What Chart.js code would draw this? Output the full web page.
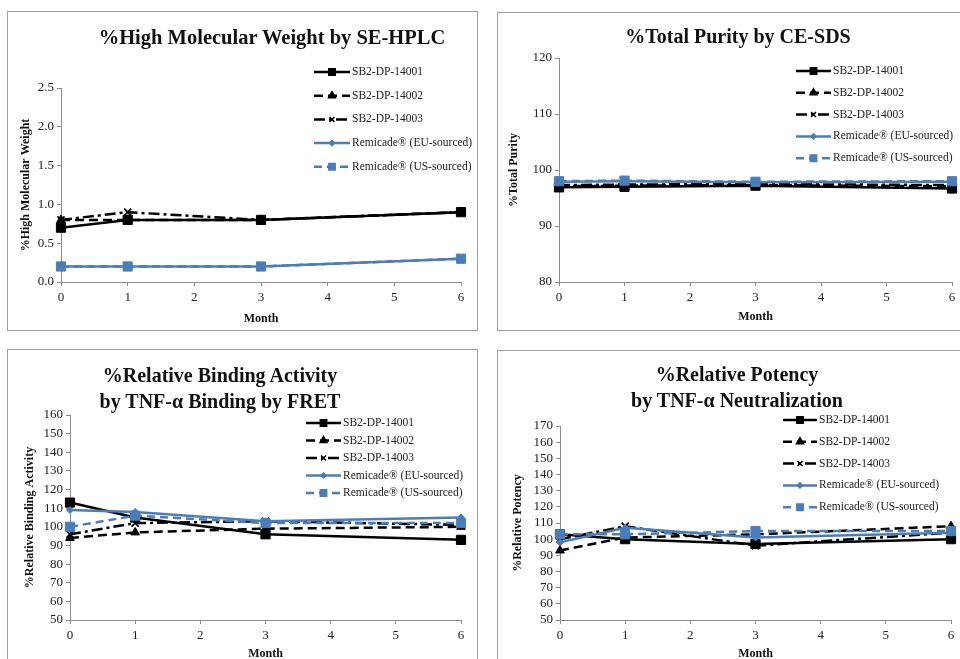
<!DOCTYPE html>
<html>
<head>
<meta charset="utf-8">
<script src="https://cdn.jsdelivr.net/npm/chart.js@4/dist/chart.umd.min.js"></script>
<style>
  body { margin: 0; width: 960px; height: 659px; overflow: hidden; background: #fff; position: relative; }
  .panel { position: absolute; border: 1px solid #a0a0a0; background: #fff; }
  .panel canvas { position: absolute; left: 0; top: 0; }
  .ttl { position: absolute; width: 500px; text-align: center; font: bold 20px "Liberation Serif", serif; line-height: 26px; color: #111; }
</style>
</head>
<body>

<div class="panel" style="left:7px;top:11px;width:469px;height:318px">
  <canvas id="c1" width="469" height="318"></canvas>
  <div class="ttl" style="left:14px;top:12px;font-size:20.5px">%High Molecular Weight by SE-HPLC</div>
</div>
<div class="panel" style="left:497px;top:12px;width:462px;height:317px">
  <canvas id="c2" width="462" height="317"></canvas>
  <div class="ttl" style="left:-10px;top:10px">%Total Purity by CE-SDS</div>
</div>
<div class="panel" style="left:7px;top:349px;width:469px;height:330px">
  <canvas id="c3" width="469" height="330"></canvas>
  <div class="ttl" style="left:-38px;top:12px">%Relative Binding Activity<br>by TNF-α Binding by FRET</div>
</div>
<div class="panel" style="left:497px;top:350px;width:462px;height:330px">
  <canvas id="c4" width="462" height="330"></canvas>
  <div class="ttl" style="left:-11px;top:10px">%Relative Potency<br>by TNF-α Neutralization</div>
</div>

<script>
// time points (months)
const months = [0, 1, 3, 6];
const seriesNames = ["SB2-DP-14001", "SB2-DP-14002", "SB2-DP-14003", "Remicade® (EU-sourced)", "Remicade® (US-sourced)"];

// %HMW by SE-HPLC
const hmw14001 = [0.7, 0.8, 0.8, 0.9];
const hmw14002 = [0.8, 0.8, 0.8, 0.9];
const hmw14003 = [0.8, 0.9, 0.8, 0.9];
const hmwEU = [0.2, 0.2, 0.2, 0.3];
const hmwUS = [0.2, 0.2, 0.2, 0.3];

// %Total purity by CE-SDS
const pur14001 = [96.9, 97.0, 97.2, 96.7];
const pur14002 = [97.1, 97.2, 97.3, 97.1];
const pur14003 = [97.3, 97.4, 97.5, 97.3];
const purEU = [97.9, 98.0, 97.8, 97.9];
const purUS = [98.0, 98.1, 97.9, 98.0];

// %Relative binding activity (FRET)
const bind14001 = [113, 105, 96, 93];
const bind14002 = [94, 97, 99, 100];
const bind14003 = [96, 102, 103, 101];
const bindEU = [109, 108, 103, 105];
const bindUS = [100, 106, 102, 102];

// %Relative potency (TNF-a neutralization)
const pot14001 = [103, 100, 97, 100];
const pot14002 = [93, 101, 103, 108];
const pot14003 = [100, 108, 96, 104];
const potEU = [98, 107, 101, 104];
const potUS = [103, 103, 105, 105];

const blue = "#4a7ebb";
const looks = [
  { color: "#000", dash: [], point: "rect", r: 6.5, lr: 4.5 },
  { color: "#000", dash: [9, 5], point: "triangle", r: 5, lr: 4 },
  { color: "#000", dash: [11, 4, 3, 4], point: "crossRot", r: 5, lr: 3.5 },
  { color: blue, dash: [], point: "rectRot", r: 3.5, lr: 2.5 },
  { color: blue, dash: [8, 5], point: "rect", r: 6.5, lr: 4.5 }
];

function makeSets(lists) {
  return lists.map((vals, i) => ({
    label: seriesNames[i],
    data: months.map((m, j) => ({ x: m, y: vals[j] })),
    borderColor: looks[i].color,
    backgroundColor: looks[i].color,
    borderWidth: 2.5,
    borderDash: looks[i].dash,
    pointStyle: looks[i].point,
    pointRadius: looks[i].r,
    pointBorderWidth: looks[i].point == "crossRot" ? 1.8 : 1,
    order: 4 - i,
    clip: false
  }));
}

// legend drawn as line sample + marker + label, like the Excel one
const legendBox = {
  id: "legendBox",
  afterDraw(chart, args, opts) {
    const ctx = chart.ctx;
    ctx.save();
    ctx.font = '11.5px "Liberation Serif", serif';
    ctx.textBaseline = "middle";
    chart.data.datasets.forEach((ds, i) => {
      const y = opts.y + i * opts.gap;
      ctx.strokeStyle = ds.borderColor;
      ctx.lineWidth = 2.5;
      ctx.setLineDash(ds.borderDash);
      ctx.beginPath();
      ctx.moveTo(opts.x, y);
      ctx.lineTo(opts.x + opts.w, y);
      ctx.stroke();
      ctx.setLineDash([]);
      ctx.fillStyle = ds.borderColor;
      ctx.lineWidth = 1.5;
      Chart.helpers.drawPoint(ctx, { pointStyle: ds.pointStyle, radius: looks[i].lr, rotation: 0, borderWidth: 1.5 }, opts.x + opts.w / 2, y);
      ctx.fillStyle = "#222";
      ctx.fillText(ds.label, opts.x + opts.w + 2, y);
    });
    ctx.restore();
  }
};

const panels = [
  { id: "c1", lists: [hmw14001, hmw14002, hmw14003, hmwEU, hmwUS], min: 0, max: 2.5, step: 0.5, dec: 1,
    yTitle: "%High Molecular Weight", pad: { left: 10, right: 16, top: 76, bottom: 0 }, yW: 43, xH: 48,
    yTitlePad: 1, xTitlePad: 4, legend: { x: 306, y: 60, gap: 23.7, w: 36 } },
  { id: "c2", lists: [pur14001, pur14002, pur14003, purEU, purUS], min: 80, max: 120, step: 10, dec: 0,
    yTitle: "%Total Purity", pad: { left: 9, right: 8, top: 45, bottom: 0 }, yW: 52, xH: 48,
    yTitlePad: 0, xTitlePad: 6, legend: { x: 298, y: 58, gap: 21.8, w: 35 } },
  { id: "c3", lists: [bind14001, bind14002, bind14003, bindEU, bindUS], min: 50, max: 160, step: 10, dec: 0,
    yTitle: "%Relative Binding Activity", pad: { left: 10, right: 16, top: 65, bottom: 0 }, yW: 52, xH: 60,
    yTitlePad: 5, xTitlePad: 19, legend: { x: 298, y: 73, gap: 17.5, w: 35 } },
  { id: "c4", lists: [pot14001, pot14002, pot14003, potEU, potUS], min: 50, max: 170, step: 10, dec: 0,
    yTitle: "%Relative Potency", pad: { left: 10, right: 9, top: 75, bottom: 0 }, yW: 52, xH: 61,
    yTitlePad: 3, xTitlePad: 20, legend: { x: 285, y: 69, gap: 21.8, w: 34 } }
];

const axisGray = "#8c8c8c";
const tickFont = { family: '"Liberation Serif", serif', size: 13 };
const titleFont = { family: '"Liberation Serif", serif', size: 12, weight: "bold" };

panels.forEach(p => {
  new Chart(document.getElementById(p.id), {
    type: "line",
    data: { datasets: makeSets(p.lists) },
    plugins: [legendBox],
    options: {
      responsive: false,
      animation: false,
      layout: { padding: p.pad },
      plugins: {
        legend: { display: false },
        tooltip: { enabled: false },
        legendBox: p.legend
      },
      scales: {
        x: {
          type: "linear", min: 0, max: 6,
          ticks: { stepSize: 1, autoSkip: false, maxRotation: 0, color: "#222", font: tickFont, padding: 4 },
          grid: { drawOnChartArea: false, drawTicks: true, tickLength: 4, color: axisGray },
          border: { color: axisGray },
          title: { display: true, text: "Month", color: "#111", font: titleFont, padding: { top: 0, bottom: p.xTitlePad } },
          afterFit: s => { s.height = p.xH; }
        },
        y: {
          min: p.min, max: p.max,
          ticks: { stepSize: p.step, autoSkip: false, color: "#222", font: tickFont, padding: 3, callback: v => Number(v).toFixed(p.dec) },
          grid: { drawOnChartArea: false, drawTicks: true, tickLength: 4, color: axisGray },
          border: { color: axisGray },
          title: { display: true, text: p.yTitle, color: "#111", font: titleFont, padding: { top: p.yTitlePad, bottom: 0 } },
          afterFit: s => { s.width = p.yW; }
        }
      }
    }
  });
});
</script>
</body>
</html>
